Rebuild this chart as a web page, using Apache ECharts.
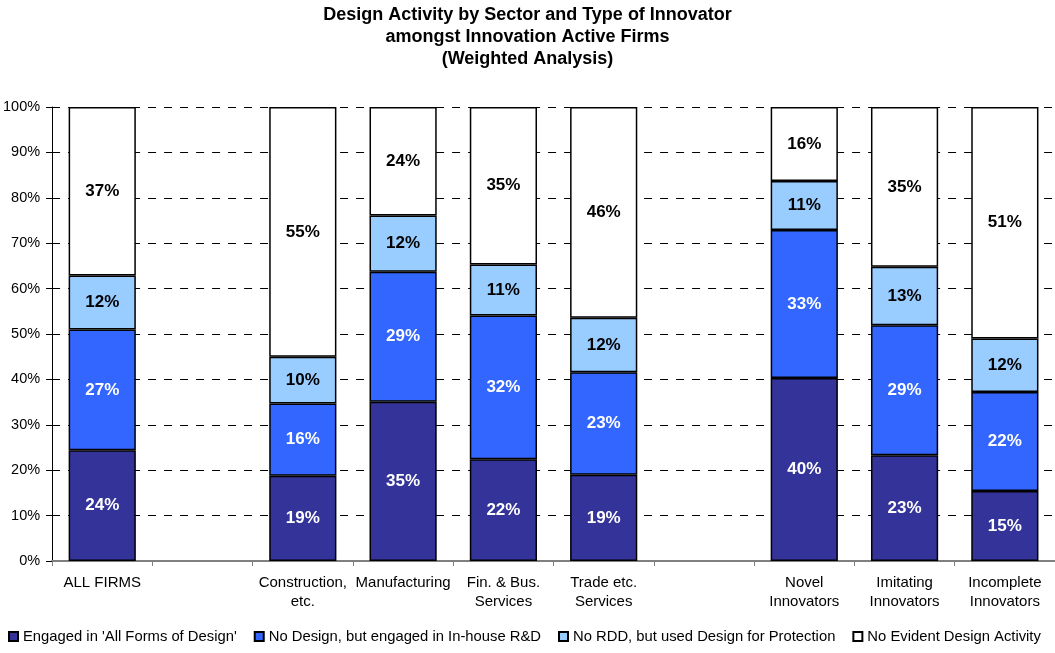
<!DOCTYPE html>
<html>
<head>
<meta charset="utf-8">
<script src="https://cdn.jsdelivr.net/npm/echarts@6/dist/echarts.min.js"></script>
<style>html,body{margin:0;padding:0;background:#fff}#c{width:1055px;height:653px}</style>
</head>
<body>
<div id="c"></div>
<script>
const categories = ['ALL FIRMS', '', 'Construction,\netc.', 'Manufacturing', 'Fin. & Bus.\nServices', 'Trade etc.\nServices', ' ', 'Novel\nInnovators', 'Imitating\nInnovators', 'Incomplete\nInnovators'];
const seriesNames = ["Engaged in 'All Forms of Design'", 'No Design, but engaged in In-house R&D', 'No RDD, but used Design for Protection', 'No Evident Design Activity'];
const allFormsDesign = [24.4, null, 18.8, 35.1, 22.4, 19.0, null, 40.3, 23.3, 15.4];
const inHouseRD      = [26.6, null, 15.9, 28.6, 31.7, 22.6, null, 32.6, 28.6, 21.8];
const designProtect  = [11.9, null, 10.3, 12.4, 11.2, 12.0, null, 10.8, 12.9, 11.8];
const noDesign       = [37.1, null, 55.0, 23.9, 34.7, 46.4, null, 16.3, 35.2, 51.0];
const yTicks = [0, 10, 20, 30, 40, 50, 60, 70, 80, 90, 100];

const colors = ['#333399', '#3366FF', '#99CCFF', '#FFFFFF'];
const labelColors = ['#FFFFFF', '#FFFFFF', '#000000', '#000000'];
const dataSets = [allFormsDesign, inHouseRD, designProtect, noDesign];
const font = "'Liberation Sans', Arial, sans-serif";

const chart = echarts.init(document.getElementById('c'));
chart.setOption({
  animation: false,
  backgroundColor: '#fff',
  title: {
    text: 'Design Activity by Sector and Type of Innovator\namongst Innovation Active Firms\n(Weighted Analysis)',
    left: 'center', top: 4, padding: [0, 5],
    textStyle: { fontFamily: font, fontSize: 18, fontWeight: 'bold', color: '#000', lineHeight: 22 }
  },
  legend: {
    left: 8, top: 629, width: 1100, padding: 0,
    itemWidth: 9, itemHeight: 9, itemGap: 17,
    icon: 'rect',
    textStyle: { fontFamily: font, fontSize: 14.8, color: '#000' },
    data: seriesNames
  },
  grid: { left: 52, right: 0, top: 107, bottom: 92 },
  xAxis: {
    type: 'category',
    data: categories,
    axisLine: { lineStyle: { color: '#808080', width: 2 } },
    axisTick: { show: true, length: 5, lineStyle: { color: '#808080' } },
    axisLabel: { fontFamily: font, fontSize: 15, color: '#000', lineHeight: 19, margin: 12, interval: 0 }
  },
  yAxis: {
    type: 'value', min: 0, max: 100, interval: 10,
    axisLine: { show: true, lineStyle: { color: '#000', width: 1 } },
    axisTick: { show: true, length: 6, lineStyle: { color: '#000' } },
    axisLabel: { fontFamily: font, fontSize: 14.5, color: '#000', margin: 12, formatter: v => yTicks.includes(v) ? v + '%' : '' },
    splitLine: { show: true, lineStyle: { color: '#000', type: [8, 8], width: 1 } }
  },
  series: dataSets.map((d, i) => ({
    name: seriesNames[i],
    type: 'bar',
    stack: 'total',
    data: d,
    barCategoryGap: '33%',
    itemStyle: { color: colors[i], borderColor: '#000', borderWidth: 1.5 },
    label: {
      show: true, position: 'inside',
      fontFamily: font, fontSize: 17, fontWeight: 'bold', color: labelColors[i],
      formatter: p => p.value == null ? '' : Math.round(p.value) + '%'
    }
  }))
});
</script>
</body>
</html>
